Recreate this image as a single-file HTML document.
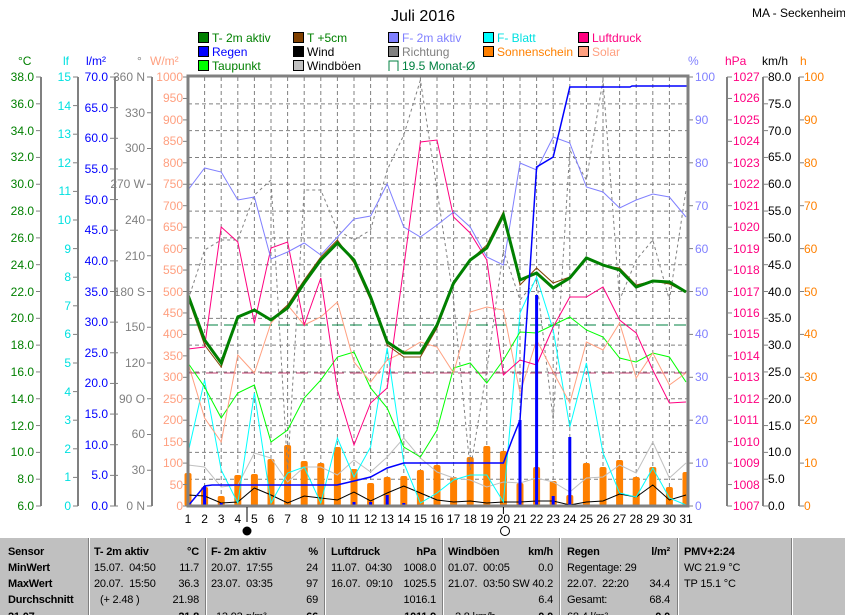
<!DOCTYPE html>
<html><head><meta charset="utf-8"><style>
body{margin:0;background:#fff;width:845px;height:615px;overflow:hidden;font-family:"Liberation Sans",sans-serif;position:relative}
svg{position:absolute;left:0;top:0}
.tb{position:absolute;left:0;top:538px;width:845px;height:77px;background:#c0c0c0;font-size:11px;color:#000;overflow:hidden}
.tb div{position:absolute;white-space:nowrap;letter-spacing:-0.2px}
.sep{top:0;width:1px;height:77px;background:#808080;border-right:1px solid #fff}
b{font-weight:bold}
</style></head><body>
<svg width="845" height="615" xmlns="http://www.w3.org/2000/svg" font-family="Liberation Sans, sans-serif">
<text x="423" y="21" font-size="16" text-anchor="middle">Juli 2016</text>
<text x="752" y="17" font-size="12">MA - Seckenheim</text>
<g font-size="12">
<rect x="198.5" y="32.5" width="10" height="10" fill="#008000" stroke="#000"/><text x="212" y="42" fill="#008000">T- 2m aktiv</text>
<rect x="198.5" y="46.5" width="10" height="10" fill="#0000ff" stroke="#000"/><text x="212" y="56" fill="#0000ff">Regen</text>
<rect x="198.5" y="60.5" width="10" height="10" fill="#00ff00" stroke="#000"/><text x="212" y="70" fill="#008000">Taupunkt</text>
<rect x="293.5" y="32.5" width="10" height="10" fill="#804000" stroke="#000"/><text x="307" y="42" fill="#008000">T +5cm</text>
<rect x="293.5" y="46.5" width="10" height="10" fill="#000" stroke="#000"/><text x="307" y="56">Wind</text>
<rect x="293.5" y="60.5" width="10" height="10" fill="#c0c0c0" stroke="#000"/><text x="307" y="70">Windböen</text>
<rect x="388.5" y="32.5" width="10" height="10" fill="#8080ff" stroke="#000"/><text x="402" y="42" fill="#8080ff">F- 2m aktiv</text>
<rect x="388.5" y="46.5" width="10" height="10" fill="#808080" stroke="#000"/><text x="402" y="56" fill="#808080">Richtung</text>
<path d="M389 71V61H398V71" fill="none" stroke="#008040"/><text x="402" y="70" fill="#008040">19.5 Monat-Ø</text>
<rect x="483.5" y="32.5" width="10" height="10" fill="#00ffff" stroke="#000"/><text x="497" y="42" fill="#00e0e0">F- Blatt</text>
<rect x="483.5" y="46.5" width="10" height="10" fill="#ff8000" stroke="#000"/><text x="497" y="56" fill="#ff8000">Sonnenschein</text>
<rect x="578.5" y="32.5" width="10" height="10" fill="#ff0080" stroke="#000"/><text x="592" y="42" fill="#ff0080">Luftdruck</text>
<rect x="578.5" y="46.5" width="10" height="10" fill="#ffa080" stroke="#000"/><text x="592" y="56" fill="#ffa080">Solar</text>
</g>
<g font-size="12">
<text x="18" y="65" fill="#008000">°C</text><text x="63" y="65" fill="#00e0e0">lf</text>
<text x="86" y="65" fill="#0000ff">l/m²</text><text x="137" y="65" fill="#808080">°</text>
<text x="150" y="65" fill="#ffa080">W/m²</text>
<text x="688" y="65" fill="#8080ff">%</text><text x="725" y="65" fill="#ff0080">hPa</text>
<text x="762" y="65" fill="#000">km/h</text><text x="800" y="65" fill="#ff8000">h</text>
</g>
<g id="grid"></g>
<g id="series"></g>
<rect x="188" y="76" width="500" height="430" fill="none" stroke="#808080" stroke-width="3"/>
<g id="axes" stroke="#808080" fill="none"></g>
<g font-size="12" text-anchor="end">
<g fill="#008000">
<text x="34" y="81">38.0</text><text x="34" y="108">36.0</text><text x="34" y="135">34.0</text><text x="34" y="161">32.0</text><text x="34" y="188">30.0</text><text x="34" y="215">28.0</text><text x="34" y="242">26.0</text><text x="34" y="269">24.0</text><text x="34" y="296">22.0</text><text x="34" y="322">20.0</text><text x="34" y="349">18.0</text><text x="34" y="376">16.0</text><text x="34" y="403">14.0</text><text x="34" y="430">12.0</text><text x="34" y="456">10.0</text><text x="34" y="483">8.0</text><text x="34" y="510">6.0</text></g>
<g fill="#00e0e0">
<text x="71" y="81">15</text><text x="71" y="110">14</text><text x="71" y="138">13</text><text x="71" y="167">12</text><text x="71" y="195">11</text><text x="71" y="224">10</text><text x="71" y="253">9</text><text x="71" y="281">8</text><text x="71" y="310">7</text><text x="71" y="338">6</text><text x="71" y="367">5</text><text x="71" y="396">4</text><text x="71" y="424">3</text><text x="71" y="453">2</text><text x="71" y="481">1</text><text x="71" y="510">0</text></g>
<g fill="#0000ff">
<text x="108" y="81">70.0</text><text x="108" y="112">65.0</text><text x="108" y="142">60.0</text><text x="108" y="173">55.0</text><text x="108" y="204">50.0</text><text x="108" y="234">45.0</text><text x="108" y="265">40.0</text><text x="108" y="296">35.0</text><text x="108" y="326">30.0</text><text x="108" y="357">25.0</text><text x="108" y="387">20.0</text><text x="108" y="418">15.0</text><text x="108" y="449">10.0</text><text x="108" y="479">5.0</text><text x="108" y="510">0.0</text></g>
<g fill="#808080">
<text x="145" y="81">360 N</text><text x="145" y="117">330</text><text x="145" y="152">300</text><text x="145" y="188">270 W</text><text x="145" y="224">240</text><text x="145" y="260">210</text><text x="145" y="296">180 S</text><text x="145" y="331">150</text><text x="145" y="367">120</text><text x="145" y="403">90 O</text><text x="145" y="438">60</text><text x="145" y="474">30</text><text x="145" y="510">0 N</text></g>
<g fill="#ffa080">
<text x="183" y="81">1000</text><text x="183" y="102">950</text><text x="183" y="124">900</text><text x="183" y="145">850</text><text x="183" y="167">800</text><text x="183" y="188">750</text><text x="183" y="210">700</text><text x="183" y="231">650</text><text x="183" y="253">600</text><text x="183" y="274">550</text><text x="183" y="296">500</text><text x="183" y="317">450</text><text x="183" y="338">400</text><text x="183" y="360">350</text><text x="183" y="381">300</text><text x="183" y="403">250</text><text x="183" y="424">200</text><text x="183" y="446">150</text><text x="183" y="467">100</text><text x="183" y="489">50</text><text x="183" y="510">0</text></g>
</g>
<g font-size="12">
<g fill="#8080ff">
<text x="695" y="81">100</text><text x="695" y="124">90</text><text x="695" y="167">80</text><text x="695" y="210">70</text><text x="695" y="253">60</text><text x="695" y="296">50</text><text x="695" y="338">40</text><text x="695" y="381">30</text><text x="695" y="424">20</text><text x="695" y="467">10</text><text x="695" y="510">0</text></g>
<g fill="#ff0080">
<text x="733" y="81">1027</text><text x="733" y="102">1026</text><text x="733" y="124">1025</text><text x="733" y="145">1024</text><text x="733" y="167">1023</text><text x="733" y="188">1022</text><text x="733" y="210">1021</text><text x="733" y="231">1020</text><text x="733" y="253">1019</text><text x="733" y="274">1018</text><text x="733" y="296">1017</text><text x="733" y="317">1016</text><text x="733" y="338">1015</text><text x="733" y="360">1014</text><text x="733" y="381">1013</text><text x="733" y="403">1012</text><text x="733" y="424">1011</text><text x="733" y="446">1010</text><text x="733" y="467">1009</text><text x="733" y="489">1008</text><text x="733" y="510">1007</text></g>
<g fill="#000">
<text x="768" y="81">80.0</text><text x="768" y="108">75.0</text><text x="768" y="135">70.0</text><text x="768" y="161">65.0</text><text x="768" y="188">60.0</text><text x="768" y="215">55.0</text><text x="768" y="242">50.0</text><text x="768" y="269">45.0</text><text x="768" y="296">40.0</text><text x="768" y="322">35.0</text><text x="768" y="349">30.0</text><text x="768" y="376">25.0</text><text x="768" y="403">20.0</text><text x="768" y="430">15.0</text><text x="768" y="456">10.0</text><text x="768" y="483">5.0</text><text x="768" y="510">0.0</text></g>
<g fill="#ff8000">
<text x="804" y="81">100</text><text x="804" y="124">90</text><text x="804" y="167">80</text><text x="804" y="210">70</text><text x="804" y="253">60</text><text x="804" y="296">50</text><text x="804" y="338">40</text><text x="804" y="381">30</text><text x="804" y="424">20</text><text x="804" y="467">10</text><text x="804" y="510">0</text></g>
</g>
<g font-size="12" text-anchor="middle">
<text x="188" y="523">1</text><text x="204.6" y="523">2</text><text x="221.2" y="523">3</text><text x="237.8" y="523">4</text><text x="254.4" y="523">5</text><text x="271" y="523">6</text><text x="287.6" y="523">7</text><text x="304.2" y="523">8</text><text x="320.8" y="523">9</text><text x="337.4" y="523">10</text><text x="354" y="523">11</text><text x="370.6" y="523">12</text><text x="387.2" y="523">13</text><text x="403.8" y="523">14</text><text x="420.4" y="523">15</text><text x="437" y="523">16</text><text x="453.6" y="523">17</text><text x="470.2" y="523">18</text><text x="486.8" y="523">19</text><text x="503.4" y="523">20</text><text x="520" y="523">21</text><text x="536.6" y="523">22</text><text x="553.2" y="523">23</text><text x="569.8" y="523">24</text><text x="586.4" y="523">25</text><text x="603" y="523">26</text><text x="619.6" y="523">27</text><text x="636.2" y="523">28</text><text x="652.8" y="523">29</text><text x="669.4" y="523">30</text><text x="686" y="523">31</text>
</g>
<line x1="247" y1="507" x2="247" y2="522" stroke="#000"/><circle cx="247" cy="531" r="4.5" fill="#000"/>
<line x1="503.4" y1="507" x2="503.4" y2="514" stroke="#000"/><circle cx="505" cy="531" r="4.5" fill="none" stroke="#000"/>
</svg>
<div class="tb">
<div class="sep" style="left:88px"></div><div class="sep" style="left:205px"></div><div class="sep" style="left:324px"></div><div class="sep" style="left:442px"></div><div class="sep" style="left:559px"></div><div class="sep" style="left:677px"></div><div class="sep" style="left:791px"></div>
<div style="left:8px;top:8px"><b>Sensor</b></div><div style="left:8px;top:24px"><b>MinWert</b></div><div style="left:8px;top:40px"><b>MaxWert</b></div><div style="left:8px;top:56px"><b>Durchschnitt</b></div><div style="left:8px;top:73px"><b>21.07.</b></div>
<div style="left:94px;top:8px"><b>T- 2m aktiv</b></div><div style="right:646px;top:8px"><b>°C</b></div>
<div style="left:94px;top:24px">15.07.&nbsp; 04:50</div><div style="right:646px;top:24px">11.7</div>
<div style="left:94px;top:40px">20.07.&nbsp; 15:50</div><div style="right:646px;top:40px">36.3</div>
<div style="left:100px;top:56px">(+ 2.48 )</div><div style="right:646px;top:56px">21.98</div><div style="right:646px;top:73px"><b>21.8</b></div>
<div style="left:211px;top:8px"><b>F- 2m aktiv</b></div><div style="right:527px;top:8px"><b>%</b></div>
<div style="left:211px;top:24px">20.07.&nbsp; 17:55</div><div style="right:527px;top:24px">24</div>
<div style="left:211px;top:40px">23.07.&nbsp; 03:35</div><div style="right:527px;top:40px">97</div>
<div style="right:527px;top:56px">69</div><div style="left:216px;top:73px">13.93 g/m³</div><div style="right:527px;top:73px"><b>66</b></div>
<div style="left:331px;top:8px"><b>Luftdruck</b></div><div style="right:409px;top:8px"><b>hPa</b></div>
<div style="left:331px;top:24px">11.07.&nbsp; 04:30</div><div style="right:409px;top:24px">1008.0</div>
<div style="left:331px;top:40px">16.07.&nbsp; 09:10</div><div style="right:409px;top:40px">1025.5</div>
<div style="right:409px;top:56px">1016.1</div><div style="right:409px;top:73px"><b>1011.9</b></div>
<div style="left:448px;top:8px"><b>Windböen</b></div><div style="right:292px;top:8px"><b>km/h</b></div>
<div style="left:448px;top:24px">01.07.&nbsp; 00:05</div><div style="right:292px;top:24px">0.0</div>
<div style="left:448px;top:40px">21.07.&nbsp; 03:50</div><div style="right:292px;top:40px">SW 40.2</div>
<div style="right:292px;top:56px">6.4</div><div style="left:455px;top:73px">2.8 km/h</div><div style="right:292px;top:73px"><b>0.0</b></div>
<div style="left:567px;top:8px"><b>Regen</b></div><div style="right:175px;top:8px"><b>l/m²</b></div>
<div style="left:567px;top:24px">Regentage: 29</div>
<div style="left:567px;top:40px">22.07.&nbsp; 22:20</div><div style="right:175px;top:40px">34.4</div>
<div style="left:567px;top:56px">Gesamt:</div><div style="right:175px;top:56px">68.4</div><div style="left:567px;top:73px">68.4 l/m²</div><div style="right:175px;top:73px"><b>0.0</b></div>
<div style="left:684px;top:8px"><b>PMV+2:24</b></div><div style="left:684px;top:24px">WC 21.9 °C</div><div style="left:684px;top:40px">TP 15.1 °C</div>
</div>
<script>
var NS="http://www.w3.org/2000/svg";
function X(d){return 188+(d-1)*16.6}
function el(p,t,a){var e=document.createElementNS(NS,t);for(var k in a)e.setAttribute(k,a[k]);p.appendChild(e);return e}
var g=document.getElementById('grid');
for(var d=2;d<=30;d++)el(g,'line',{x1:X(d),y1:77,x2:X(d),y2:506,stroke:'#808080','stroke-dasharray':'4,3'});
for(var i=1;i<16;i++){var y=77+i*26.8125;el(g,'line',{x1:188,y1:y,x2:688,y2:y,stroke:'#808080','stroke-dasharray':'4,3'});}
var s=document.getElementById('series');
function line(v,c,w,dash){var p=v.map(function(y,i){return X(i+1)+','+y}).join(' ');var a={points:p,fill:'none',stroke:c,'stroke-width':w||1};if(dash)a['stroke-dasharray']=dash;el(s,'polyline',a)}
el(s,'line',{x1:188,y1:325,x2:688,y2:325,stroke:'#008040','stroke-dasharray':'12,6'});
el(s,'line',{x1:188,y1:373,x2:688,y2:373,stroke:'#c04070','stroke-dasharray':'12,6'});
var sun=[473,487,496,475,474,459,445,461,463,447,469,483,477,476,470,465,477,457,446,451,483,467,481,495,463,467,460,477,467,487,472];
sun.forEach(function(y,i){el(s,'rect',{x:X(i+1)-3.5,y:y,width:7,height:506-y,fill:'#ff8000',rx:2})});
line([300,250,240,240,195,180,470,190,190,230,240,230,170,135,80,190,300,470,370,250,300,280,420,150,180,80,300,260,240,300,190],'#808080',1,'3,3');
line([465,467,487,485,453,458,482,467,467,475,460,472,457,438,458,472,478,480,487,482,483,478,482,492,478,477,465,473,442,478,463],'#c0c0c0');
line([495,496,503,502,488,495,503,496,498,500,492,501,493,486,493,500,502,501,503,502,502,501,501,505,502,501,494,497,485,500,495],'#000');
line([453,380,470,503,393,503,473,467,503,438,477,447,348,463,503,493,480,475,475,502,313,277,330,427,363,453,493,497,468,498,505],'#00ffff');
line([363,387,418,393,385,442,430,398,380,357,352,388,408,447,457,430,368,363,383,360,332,333,325,317,330,337,358,362,353,357,382],'#00ff00');
line([363,418,442,355,373,323,305,325,317,302,362,382,360,352,342,347,373,312,307,310,393,340,372,403,342,350,323,378,353,385,373],'#ffa080');
line([349,347,227,242,323,248,242,325,278,390,445,403,388,267,142,140,217,233,260,375,360,365,327,297,297,287,320,333,370,403,402],'#ff0080');
line([190,168,172,200,197,259,252,243,255,237,219,216,184,227,237,225,212,227,257,265,163,170,137,143,187,192,208,200,194,197,217],'#8080ff');
line([298,345,367,318,310,320,305,280,257,240,263,300,345,357,357,328,285,260,245,212,285,268,283,277,258,266,268,285,281,284,292],'#804000');
line([295,340,363,317,310,320,308,283,260,243,260,297,342,353,353,325,283,260,248,215,280,273,288,278,258,265,270,287,281,282,292],'#008000',3);
[[2,486],[3,503],[11,502],[12,502],[13,495],[14,503],[21,420],[22,295],[23,496],[24,437],[28,505]].forEach(function(a){el(s,'line',{x1:X(a[0]),y1:a[1],x2:X(a[0]),y2:506,stroke:'#0000ff','stroke-width':3})});
el(s,'polyline',{points:'188,506 204.6,486 212,485 337,485 354,481 370.6,477 387.2,468 403.8,463 503.4,463 512,440 520,420 528,300 536.6,167 553.2,157 569.8,87 630,87 632,86 688,86',fill:'none',stroke:'#0000ff','stroke-width':1.5});
var a=document.getElementById('axes');
function ax(x,y0,n,step,tx1,tx2){el(a,'line',{x1:x,y1:77,x2:x,y2:506,'stroke-width':2});for(var i=0;i<=n;i++){var y=77+i*step;el(a,'line',{x1:tx1,y1:y,x2:tx2,y2:y})}}
ax(41,77,16,26.8125,36,41);ax(78,77,15,28.6,73,78);ax(115,77,14,30.643,110,118);ax(152,77,12,35.75,147,152);
for(var i=0;i<=20;i++)el(a,'line',{x1:183,y1:77+i*21.45,x2:188,y2:77+i*21.45});
for(var i=0;i<=10;i++)el(a,'line',{x1:688,y1:77+i*42.9,x2:693,y2:77+i*42.9});
ax(727,77,20,21.45,727,732);ax(763,77,16,26.8125,763,768);ax(799,77,10,42.9,799,804);
</script>
</body></html>
